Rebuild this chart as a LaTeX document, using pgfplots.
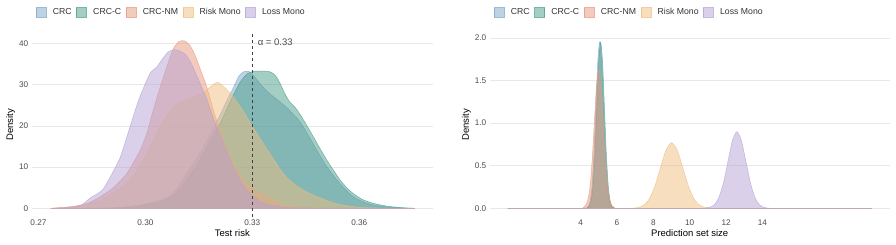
\documentclass[border=0pt]{standalone}
\usepackage{fontspec}
\setmainfont{Liberation Sans}
\usepackage{pgfplots}
\pgfplotsset{compat=1.18}
\definecolor{cCRC}{HTML}{7BA5C6}
\definecolor{cCRCC}{HTML}{4A9C8A}
\definecolor{cNM}{HTML}{E8977C}
\definecolor{cRisk}{HTML}{EDBD80}
\definecolor{cLoss}{HTML}{B5A1D4}
\definecolor{tickgray}{HTML}{4D4D4D}
\pgfplotsset{
  dens/.style={smooth, tension=0.4, fill=#1, fill opacity=0.5, draw=#1, draw opacity=0.75, line width=0.5pt},
  base/.style={
    scale only axis, height=184pt,
    axis line style={draw=none}, major tick length=0pt,
    ymajorgrids, grid style={color=black!9, line width=0.6pt},
    /pgf/number format/assume math mode=true,
    tick label style={font=\fontsize{8.2}{9}\selectfont, text=tickgray},
    label style={font=\fontsize{9.5}{11}\selectfont, text=black},
    legend columns=5,
    legend image code/.code={\draw[#1, line width=0.5pt] (0pt,-4.5pt) rectangle (10pt,5pt);},
    legend style={draw=none, fill=none, at={(0,1)}, anchor=south west, xshift=4pt, yshift=14pt,
      font=\fontsize{8.7}{10}\selectfont, text=black!80, inner sep=0pt,
      /tikz/every odd column/.append style={column sep=4.5pt},
      /tikz/every even column/.append style={column sep=2.5pt}},
  }
}
\begin{document}
\begin{tikzpicture}[x=1pt,y=1pt]
\useasboundingbox (0,0) rectangle (896,245);
\begin{axis}[base, at={(31.7pt,28.3pt)}, anchor=south west, width=401.3pt,
  xmin=0.2681, xmax=0.3807, ymin=-2.03, ymax=42.6,
  xtick={0.27,0.30,0.33,0.36}, xticklabels={0.27,0.30,0.33,0.36},
  ytick={0,10,20,30,40},
  xlabel={Test risk}, ylabel={Density},
  xlabel style={yshift=3pt}, ylabel style={yshift=-3pt}]
\addplot[dens=cCRC] table {
0.2735 0
0.2900 0.1
0.2950 0.4
0.3000 1.0
0.3040 2.0
0.3069 3.0
0.3090 5.0
0.3116 8.5
0.3140 11.5
0.3163 14.9
0.3185 18.5
0.3209 22.5
0.3228 26.0
0.3247 29.3
0.3262 32.0
0.3275 33.1
0.3290 33.2
0.3305 32.0
0.3322 30.2
0.3340 28.5
0.3359 27.1
0.3378 25.8
0.3397 24.4
0.3415 22.8
0.3434 21.0
0.3452 18.5
0.3471 15.6
0.3490 12.8
0.3509 10.1
0.3528 7.9
0.3546 6.0
0.3565 4.2
0.3583 2.8
0.3610 1.6
0.3640 0.8
0.3680 0.3
0.3720 0.1
0.3756 0
} \closedcycle;
\addlegendentry{CRC}
\addplot[dens=cCRCC] table {
0.2735 0
0.2900 0.05
0.2960 0.3
0.3000 0.8
0.3040 1.6
0.3069 2.6
0.3095 4.5
0.3120 7.5
0.3145 10.5
0.3170 14.5
0.3190 17.8
0.3209 20.5
0.3228 24.0
0.3247 27.5
0.3265 30.5
0.3285 32.6
0.3303 33.2
0.3325 33.3
0.3350 33.1
0.3365 32.2
0.3378 30.3
0.3390 28.0
0.3405 25.8
0.3420 24.5
0.3434 22.8
0.3452 20.2
0.3471 17.4
0.3490 14.5
0.3509 11.7
0.3528 9.2
0.3546 6.9
0.3565 5.0
0.3583 3.6
0.3610 2.1
0.3640 1.2
0.3680 0.5
0.3720 0.15
0.3756 0
} \closedcycle;
\addlegendentry{CRC-C}
\addplot[dens=cNM] table {
0.2735 0
0.2800 0.4
0.2840 1.3
0.2873 2.8
0.2910 5.0
0.2948 8.5
0.2985 14.0
0.3005 18.5
0.3022 23.8
0.3040 29.0
0.3060 34.3
0.3079 38.8
0.3095 40.5
0.3110 40.6
0.3125 39.5
0.3140 37.0
0.3155 33.5
0.3172 29.5
0.3190 24.0
0.3209 19.0
0.3228 14.5
0.3247 10.9
0.3265 8.0
0.3284 6.0
0.3303 4.6
0.3322 3.6
0.3340 2.8
0.3359 2.0
0.3380 1.2
0.3406 0.5
0.3450 0.15
0.3550 0.02
0.3756 0
} \closedcycle;
\addlegendentry{CRC-NM}
\addplot[dens=cRisk] table {
0.2735 0
0.2800 0.5
0.2840 1.2
0.2873 2.0
0.2910 3.8
0.2948 6.1
0.2975 9.0
0.3004 13.3
0.3022 16.5
0.3041 19.8
0.3060 22.5
0.3079 24.6
0.3100 25.9
0.3125 26.7
0.3145 27.3
0.3163 28.0
0.3180 29.3
0.3195 30.3
0.3205 30.5
0.3220 29.5
0.3235 28.2
0.3247 27.0
0.3275 23.5
0.3303 19.5
0.3330 15.8
0.3359 12.0
0.3385 8.6
0.3415 6.0
0.3445 4.3
0.3471 3.2
0.3500 2.2
0.3527 1.3
0.3555 0.8
0.3583 0.4
0.3620 0.15
0.3680 0.03
0.3756 0
} \closedcycle;
\addlegendentry{Risk Mono}
\addplot[dens=cLoss] table {
0.2735 0
0.2780 0.2
0.2820 0.8
0.2845 2.5
0.2880 4.5
0.2910 9.0
0.2930 12.5
0.2957 19.8
0.2980 26.0
0.3004 31.1
0.3015 33.0
0.3032 34.3
0.3050 36.5
0.3065 38.0
0.3080 38.5
0.3095 38.2
0.3110 37.5
0.3125 35.8
0.3145 32.0
0.3172 26.5
0.3190 22.0
0.3209 17.8
0.3230 13.5
0.3247 10.0
0.3270 6.2
0.3294 3.6
0.3320 1.8
0.3350 0.8
0.3400 0.2
0.3500 0.05
0.3756 0
} \closedcycle;
\addlegendentry{Loss Mono}
\draw[black!75, dashed, line width=0.6pt] (axis cs:0.33,-2.03) -- (axis cs:0.33,42.6);
\node[anchor=west, inner sep=0pt, font=\fontsize{9.5}{11}\selectfont, text=black!70] at (axis cs:0.3315,40.3) {α = 0.33};
\end{axis}
\begin{axis}[base, at={(489.7pt,28.3pt)}, anchor=south west, width=400pt,
  xmin=-1, xmax=21, ymin=-0.098, ymax=2.06,
  xtick={4,6,8,10,12,14},
  ytick={0,0.5,1,1.5,2}, yticklabels={0.0,0.5,1.0,1.5,2.0},
  xlabel={Prediction set size}, ylabel={Density},
  xlabel style={yshift=3pt}, ylabel style={yshift=-3pt}]
\addplot[dens=cCRC] table {
0 0
4.2 0
4.315 0.004
4.42 0.022
4.525 0.086
4.63 0.264
4.735 0.633
4.84 1.183
4.945 1.721
5.05 1.95
5.155 1.721
5.26 1.183
5.365 0.633
5.47 0.264
5.575 0.086
5.68 0.022
5.785 0.004
5.9 0
20 0
} \closedcycle;
\addlegendentry{CRC}
\addplot[dens=cCRCC] table {
0 0
4.25 0
4.365 0.004
4.47 0.022
4.575 0.086
4.68 0.264
4.785 0.633
4.89 1.183
4.995 1.721
5.1 1.95
5.205 1.721
5.31 1.183
5.415 0.633
5.52 0.264
5.625 0.086
5.73 0.022
5.835 0.004
5.95 0
20 0
} \closedcycle;
\addlegendentry{CRC-C}
\addplot[dens=cNM] table {
0 0
4.0 0
4.125 0.005
4.25 0.03
4.375 0.08
4.5 0.221
4.625 0.529
4.75 0.989
4.875 1.438
5.0 1.63
5.125 1.438
5.25 0.989
5.375 0.529
5.5 0.221
5.625 0.08
5.75 0.025
5.875 0.005
6.0 0
20 0
} \closedcycle;
\addlegendentry{CRC-NM}
\addplot[dens=cRisk] table {
0 0
6.6 0
6.83 0.0017
7.14 0.0085
7.45 0.034
7.76 0.104
8.07 0.250
8.38 0.467
8.69 0.680
9.0 0.77
9.31 0.685
9.62 0.475
9.93 0.260
10.24 0.110
10.55 0.037
10.86 0.010
11.17 0.002
11.5 0
20 0
} \closedcycle;
\addlegendentry{Risk Mono}
\addplot[dens=cLoss] table {
0 0
10.7 0
10.85 0.002
11.1 0.012
11.35 0.042
11.6 0.125
11.85 0.295
12.1 0.546
12.35 0.794
12.6 0.90
12.85 0.790
13.1 0.540
13.35 0.290
13.6 0.120
13.85 0.040
14.1 0.010
14.35 0.002
14.6 0
20 0
} \closedcycle;
\addlegendentry{Loss Mono}
\end{axis}
\end{tikzpicture}
\end{document}
